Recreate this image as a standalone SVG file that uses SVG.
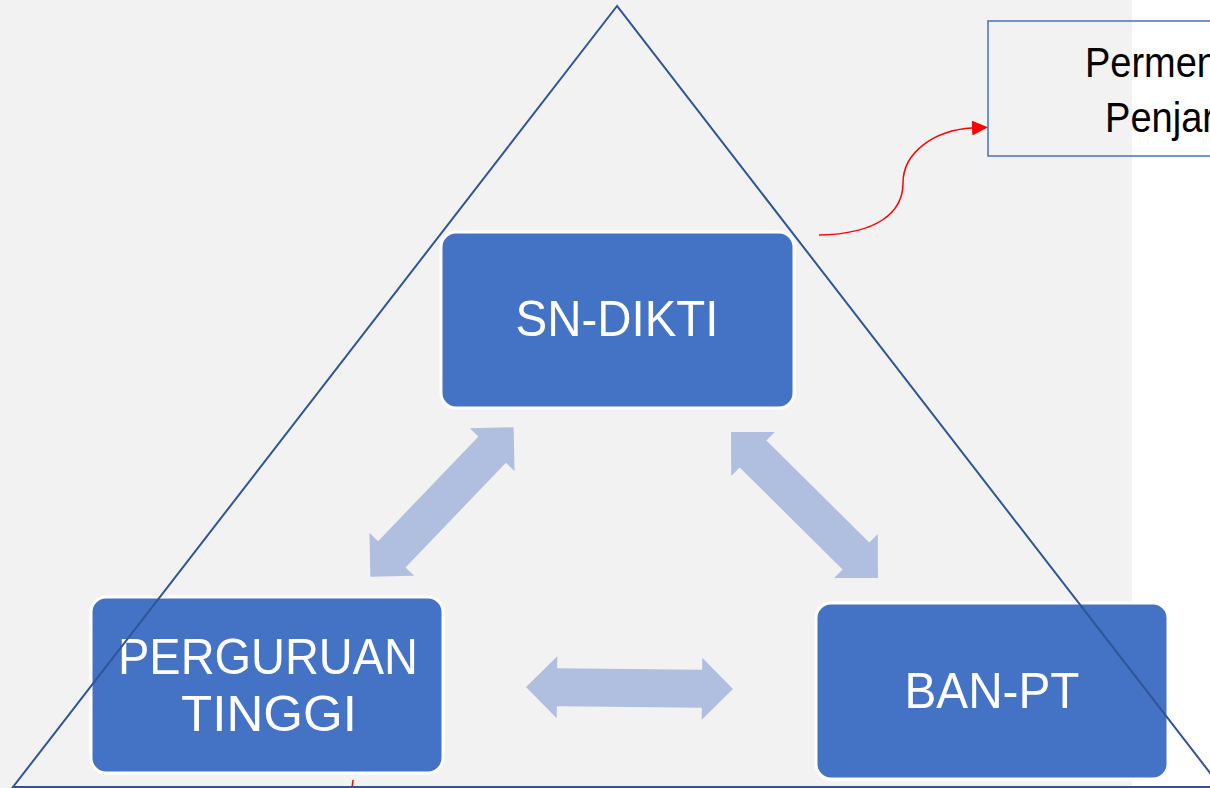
<svg xmlns="http://www.w3.org/2000/svg" width="1210" height="788" viewBox="0 0 1210 788">
  <style>
    .node rect { fill: #4472c4; stroke: #ffffff; stroke-width: 3; }
    .node text { fill: #ffffff; font-family: "Liberation Sans", Arial, sans-serif; font-size: 50px; text-anchor: middle; }
    .dbl { fill: #b0bfe0; }
    .note text { fill: #000000; font-family: "Liberation Sans", Arial, sans-serif; font-size: 42px; }
  </style>
  <defs>
    <path id="dblArrow" d="M -103.5 0 L -72.5 -31 L -72.5 -19 L 72.5 -19 L 72.5 -31 L 103.5 0 L 72.5 31 L 72.5 19 L -72.5 19 L -72.5 31 Z"/>
    <marker id="redHead" markerUnits="userSpaceOnUse" markerWidth="16" markerHeight="15" viewBox="0 0 16 15" refX="0" refY="7.5" orient="auto">
      <path d="M0,0 L16,7.5 L0,15 Z" fill="#ff0000"/>
    </marker>
  </defs>

  <!-- background -->
  <rect x="0" y="0" width="1210" height="788" fill="#ffffff"/>
  <rect x="0" y="0" width="1132" height="788" fill="#f2f2f2"/>

  <!-- note box (top right) -->
  <g id="note" class="note">
    <rect x="988" y="21" width="300" height="135" fill="none" stroke="#4472c4" stroke-width="1.5"/>
    <text x="1085" y="77" textLength="133" lengthAdjust="spacingAndGlyphs">Permen</text>
    <text x="1105" y="132" textLength="110" lengthAdjust="spacingAndGlyphs">Penjar</text>
  </g>

  <!-- nodes -->
  <g id="sn-dikti" class="node">
    <rect x="441" y="232" width="353" height="176" rx="15" ry="15"/>
    <text x="617" y="336" textLength="203" lengthAdjust="spacingAndGlyphs">SN-DIKTI</text>
  </g>
  <g id="perguruan-tinggi" class="node">
    <rect x="91" y="597" width="352" height="176" rx="15" ry="15"/>
    <text x="268" y="674" textLength="300" lengthAdjust="spacingAndGlyphs">PERGURUAN</text>
    <text x="269" y="731" textLength="176" lengthAdjust="spacingAndGlyphs">TINGGI</text>
  </g>
  <g id="ban-pt" class="node">
    <rect x="816" y="603" width="352" height="176" rx="15" ry="15"/>
    <text x="992" y="708" textLength="175" lengthAdjust="spacingAndGlyphs">BAN-PT</text>
  </g>

  <!-- connectors -->
  <g id="connectors">
    <use href="#dblArrow" class="dbl" transform="translate(442 502) rotate(-46.2)"/>
    <use href="#dblArrow" class="dbl" transform="translate(804.5 505) rotate(44.8)"/>
    <use href="#dblArrow" class="dbl" transform="translate(629.5 688) rotate(0.55)"/>
    <path d="M 819 235 C 878 234 903 212 903 183 C 903 152 935 130 972 128" fill="none" stroke="#ff0000" stroke-width="1.5" marker-end="url(#redHead)"/>
    <line x1="353" y1="780" x2="352" y2="788" stroke="#ff0000" stroke-width="1.5"/>
  </g>

  <!-- triangle outline -->
  <g id="triangle">
    <polygon points="617,6 13,787 1221,787" fill="none" stroke="#2f5597" stroke-width="2"/>
  </g>
</svg>
